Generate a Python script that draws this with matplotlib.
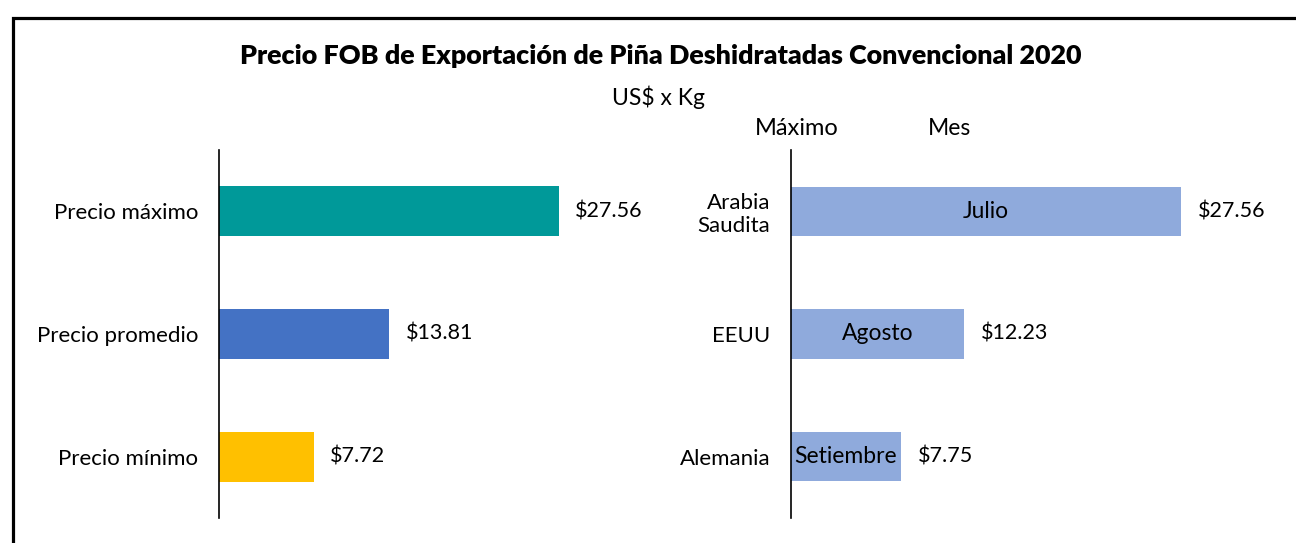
import matplotlib.pyplot as plt
from matplotlib.patches import Rectangle

# Datos
categorias = ["Precio máximo", "Precio promedio", "Precio mínimo"]
precios = [27.56, 13.81, 7.72]
colores = ["#009999", "#4472C4", "#FFC000"]

paises = ["Arabia\nSaudita", "EEUU", "Alemania"]
precios_max = [27.56, 12.23, 7.75]
meses = ["Julio", "Agosto", "Setiembre"]

plt.rcParams['font.family'] = ['Lato', 'DejaVu Sans']

W, H = 1296, 543
fig = plt.figure(figsize=(W / 100, H / 100), dpi=100)

# Marco del gráfico
fig.patches.append(Rectangle((13 / W, -0.1), 1.2, (H - 18) / H + 0.1, transform=fig.transFigure,
                             fill=False, edgecolor='black', linewidth=2.3))

fig.text(661 / W, 1 - 56 / H, "Precio FOB de Exportación de Piña Deshidratadas Convencional 2020",
         ha='center', va='center', fontsize=19.4, fontweight='heavy')
fig.text(659 / W, 1 - 97 / H, "US$ x Kg", ha='center', va='center', fontsize=16.5)
fig.text(797 / W, 1 - 128 / H, "Máximo", ha='center', va='center', fontsize=17)
fig.text(949 / W, 1 - 128 / H, "Mes", ha='center', va='center', fontsize=16.5)


def estilo(ax):
    for s in ['top', 'right', 'bottom']:
        ax.spines[s].set_visible(False)
    ax.spines['left'].set_linewidth(1.2)
    ax.set_xticks([])
    ax.tick_params(axis='y', length=0, pad=15, labelsize=16)
    ax.set_ylim(2.5, -0.5)


# Panel izquierdo
ax1 = fig.add_axes([219 / W, 25 / H, 432 / W, 368 / H])
ax1.barh(range(3), precios, height=0.41, color=colores)
ax1.set_xlim(0, 35)
ax1.set_yticks(range(3))
ax1.set_yticklabels(categorias)
estilo(ax1)
for i, v in enumerate(precios):
    ax1.text(v + 1.3, i, f"${v:.2f}", va='center', ha='left', fontsize=15.5)

# Panel derecho
ax2 = fig.add_axes([791 / W, 25 / H, 424.5 / W, 368 / H])
ax2.barh(range(3), precios_max, height=0.40, color="#8FAADC")
ax2.set_xlim(0, 30)
ax2.set_yticks(range(3))
ax2.set_yticklabels(paises, linespacing=1.15)
estilo(ax2)
for i, v in enumerate(precios_max):
    ax2.text(v + 1.2, i, f"${v:.2f}", va='center', ha='left', fontsize=15.5)
    ax2.text(v / 2, i, meses[i], va='center', ha='center', fontsize=16.5)

fig.savefig("out.png", dpi=100)
